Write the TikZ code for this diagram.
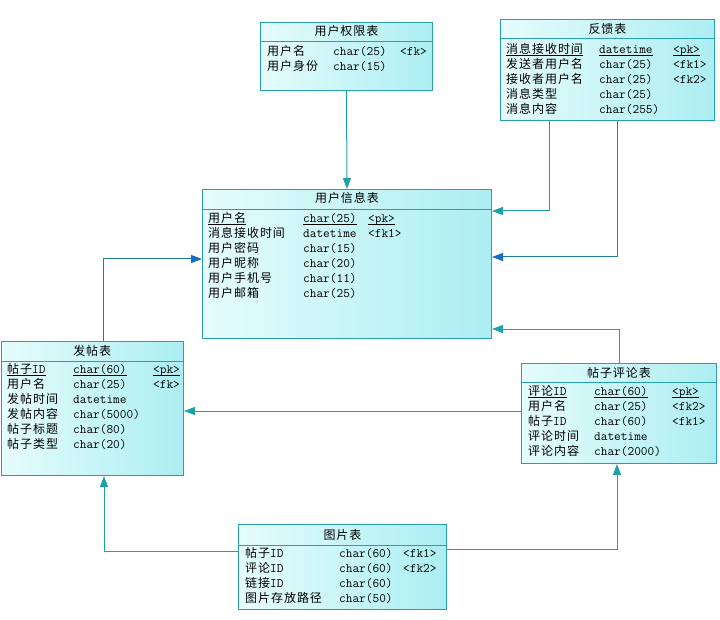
\documentclass[tikz,border=0pt]{standalone}
\usepackage{fontspec}
\usetikzlibrary{arrows.meta,calc}
\newfontfamily\cjk[LetterSpace=8]{Noto Sans CJK SC}
\newfontfamily\mono[Scale=1.08]{Latin Modern Mono}
\definecolor{bd}{RGB}{40,160,170}
\definecolor{ln}{RGB}{30,160,170}
\definecolor{lnb}{RGB}{30,125,165}
\definecolor{tipb}{RGB}{20,110,200}
\definecolor{fillA}{RGB}{230,252,252}
\definecolor{fillB}{RGB}{172,238,242}
\newcommand\fld[4]{\node[txt] (#1) at (#2,#3) {#4};}
\newcommand\ulx[1]{\underline{\smash{#1}}}
\begin{document}
\begin{tikzpicture}[x=1pt,y=-1pt,
 tbl/.style={draw=bd, line width=1pt, left color=fillA, right color=fillB, inner sep=0pt, anchor=north west},
 txt/.style={inner sep=0pt, anchor=base west, font=\fontsize{12}{14}\selectfont},
 ttl/.style={inner sep=0pt, anchor=base, font=\cjk\fontsize{12}{14}\selectfont},
 hdr/.style={draw=bd, line width=1pt},
 conn/.style={draw=ln, line width=1pt, -{Triangle[length=11pt,width=8pt]}},
 connb/.style={draw=lnb, line width=1pt, -{Triangle[length=11pt,width=8pt,color=tipb,fill=tipb]}},
]
\useasboundingbox (0,0) rectangle (720,620);

% ---------- 用户权限表 ----------
\node[tbl, minimum width=172pt, minimum height=68pt] (perm) at (260,22) {};
\draw[hdr] ($(perm.north west)+(0,20)$) -- ($(perm.north east)+(0,20)$);
\node[ttl] (perm-t) at ($(perm.north)+(0,14)$) {用户权限表};
\fld{perm-a1}{267}{55.5}{\cjk 用户名}
\fld{perm-b1}{333}{55.5}{\mono char(25)}
\fld{perm-c1}{400}{55.5}{\mono <fk>}
\fld{perm-a2}{267}{70.5}{\cjk 用户身份}
\fld{perm-b2}{333}{70.5}{\mono char(15)}

% ---------- 反馈表 ----------
\node[tbl, minimum width=214pt, minimum height=101pt] (fb) at (500,19) {};
\draw[hdr] ($(fb.north west)+(0,20)$) -- ($(fb.north east)+(0,20)$);
\node[ttl] (fb-t) at ($(fb.north)+(0,15)$) {反馈表};
\fld{fb-a1}{506}{53.5}{\cjk\ulx{消息接收时间}}
\fld{fb-b1}{599}{53.5}{\mono\ulx{datetime}}
\fld{fb-c1}{673}{53.5}{\mono\ulx{<pk>}}
\fld{fb-a2}{506}{68.5}{\cjk 发送者用户名}
\fld{fb-b2}{599}{68.5}{\mono char(25)}
\fld{fb-c2}{673}{68.5}{\mono <fk1>}
\fld{fb-a3}{506}{83.5}{\cjk 接收者用户名}
\fld{fb-b3}{599}{83.5}{\mono char(25)}
\fld{fb-c3}{673}{83.5}{\mono <fk2>}
\fld{fb-a4}{506}{98.5}{\cjk 消息类型}
\fld{fb-b4}{599}{98.5}{\mono char(25)}
\fld{fb-a5}{506}{113.5}{\cjk 消息内容}
\fld{fb-b5}{599}{113.5}{\mono char(255)}

% ---------- 用户信息表 ----------
\node[tbl, minimum width=289pt, minimum height=149pt] (info) at (202,189) {};
\draw[hdr] ($(info.north west)+(0,21)$) -- ($(info.north east)+(0,21)$);
\node[ttl] (info-t) at ($(info.north)+(0,14)$) {用户信息表};
\fld{info-a1}{208}{222.5}{\cjk\ulx{用户名}}
\fld{info-b1}{303}{222.5}{\mono\ulx{char(25)}}
\fld{info-c1}{368}{222.5}{\mono\ulx{<pk>}}
\fld{info-a2}{208}{237.5}{\cjk 消息接收时间}
\fld{info-b2}{303}{237.5}{\mono datetime}
\fld{info-c2}{368}{237.5}{\mono <fk1>}
\fld{info-a3}{208}{252.5}{\cjk 用户密码}
\fld{info-b3}{303}{252.5}{\mono char(15)}
\fld{info-a4}{208}{267.5}{\cjk 用户昵称}
\fld{info-b4}{303}{267.5}{\mono char(20)}
\fld{info-a5}{208}{282.5}{\cjk 用户手机号}
\fld{info-b5}{303}{282.5}{\mono char(11)}
\fld{info-a6}{208}{297.5}{\cjk 用户邮箱}
\fld{info-b6}{303}{297.5}{\mono char(25)}

% ---------- 发帖表 ----------
\node[tbl, minimum width=182.5pt, minimum height=134pt] (post) at (0.5,341) {};
\draw[hdr] ($(post.north west)+(0,20)$) -- ($(post.north east)+(0,20)$);
\node[ttl] (post-t) at ($(post.north)+(0,14)$) {发帖表};
\fld{post-a1}{7}{373.5}{\ulx{\cjk 帖子\mono ID}}
\fld{post-b1}{73}{373.5}{\mono\ulx{char(60)}}
\fld{post-c1}{153}{373.5}{\mono\ulx{<pk>}}
\fld{post-a2}{7}{388.5}{\cjk 用户名}
\fld{post-b2}{73}{388.5}{\mono char(25)}
\fld{post-c2}{153}{388.5}{\mono <fk>}
\fld{post-a3}{7}{403.5}{\cjk 发帖时间}
\fld{post-b3}{73}{403.5}{\mono datetime}
\fld{post-a4}{7}{418.5}{\cjk 发帖内容}
\fld{post-b4}{73}{418.5}{\mono char(5000)}
\fld{post-a5}{7}{433.5}{\cjk 帖子标题}
\fld{post-b5}{73}{433.5}{\mono char(80)}
\fld{post-a6}{7}{448.5}{\cjk 帖子类型}
\fld{post-b6}{73}{448.5}{\mono char(20)}

% ---------- 帖子评论表 ----------
\node[tbl, minimum width=195pt, minimum height=100pt] (cm) at (521,363) {};
\draw[hdr] ($(cm.north west)+(0,19)$) -- ($(cm.north east)+(0,19)$);
\node[ttl] (cm-t) at ($(cm.north)+(0,14)$) {帖子评论表};
\fld{cm-a1}{528}{395.5}{\ulx{\cjk 评论\mono ID}}
\fld{cm-b1}{594}{395.5}{\mono\ulx{char(60)}}
\fld{cm-c1}{672}{395.5}{\mono\ulx{<pk>}}
\fld{cm-a2}{528}{410.5}{\cjk 用户名}
\fld{cm-b2}{594}{410.5}{\mono char(25)}
\fld{cm-c2}{672}{410.5}{\mono <fk2>}
\fld{cm-a3}{528}{425.5}{\cjk 帖子\mono ID}
\fld{cm-b3}{594}{425.5}{\mono char(60)}
\fld{cm-c3}{672}{425.5}{\mono <fk1>}
\fld{cm-a4}{528}{440.5}{\cjk 评论时间}
\fld{cm-b4}{594}{440.5}{\mono datetime}
\fld{cm-a5}{528}{455.5}{\cjk 评论内容}
\fld{cm-b5}{594}{455.5}{\mono char(2000)}

% ---------- 图片表 ----------
\node[tbl, minimum width=208pt, minimum height=85pt] (pic) at (238,524) {};
\draw[hdr] ($(pic.north west)+(0,21)$) -- ($(pic.north east)+(0,21)$);
\node[ttl] (pic-t) at ($(pic.north)+(0,15)$) {图片表};
\fld{pic-a1}{245}{557.5}{\cjk 帖子\mono ID}
\fld{pic-b1}{339}{557.5}{\mono char(60)}
\fld{pic-c1}{403}{557.5}{\mono <fk1>}
\fld{pic-a2}{245}{572.5}{\cjk 评论\mono ID}
\fld{pic-b2}{339}{572.5}{\mono char(60)}
\fld{pic-c2}{403}{572.5}{\mono <fk2>}
\fld{pic-a3}{245}{587.5}{\cjk 链接\mono ID}
\fld{pic-b3}{339}{587.5}{\mono char(60)}
\fld{pic-a4}{245}{602.5}{\cjk 图片存放路径}
\fld{pic-b4}{339}{602.5}{\mono char(50)}

% ---------- helper coordinates ----------
\coordinate (h1) at (549,211);
\coordinate (h2) at (617,257);
\coordinate (h3) at (619,329);
\coordinate (h4) at (103,259);
\coordinate (h5) at (0,411);
\coordinate (h6) at (104,551);
\coordinate (h7) at (617,549);

% ---------- connectors ----------
\draw[conn] (perm.south) -- (info.north);
\draw[conn] (fb.south -| h1) |- (info.east |- h1);
\draw[connb] (fb.south -| h2) |- (info.east |- h2);
\draw[conn] (cm.north -| h3) |- (info.east |- h3);
\draw[connb] (post.north -| h4) |- (info.west |- h4);
\draw[conn] (cm.west |- h5) -- (post.east |- h5);
\draw[conn] (pic.west |- h6) -| (post.south -| h6);
\draw[conn] (pic.east |- h7) -| (cm.south -| h7);
\end{tikzpicture}
\end{document}
